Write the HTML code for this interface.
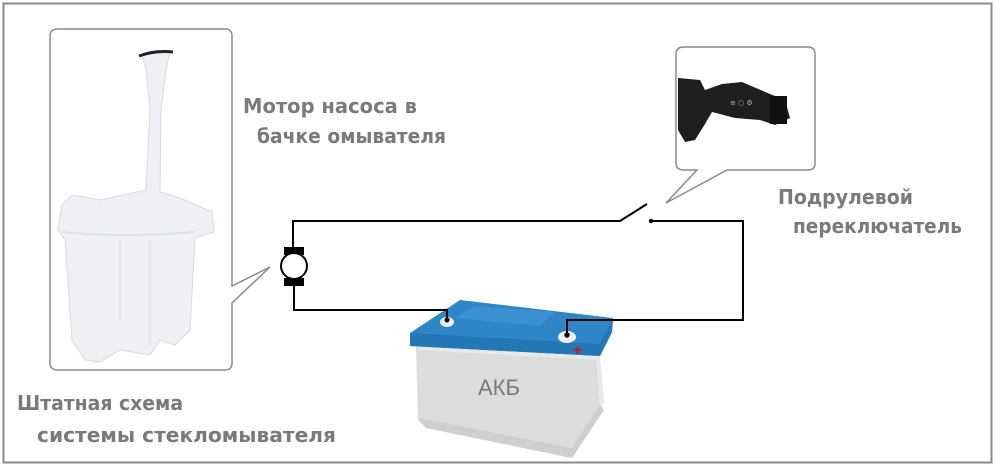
<!DOCTYPE html>
<html><head><meta charset="utf-8"><style>html,body{margin:0;padding:0;background:#fff}svg{display:block}</style></head>
<body>
<svg width="995" height="468" viewBox="0 0 995 468" xmlns="http://www.w3.org/2000/svg">
<rect x="0" y="0" width="995" height="468" fill="#fff"/>
<rect x="3.5" y="3.5" width="988" height="459" fill="none" stroke="#8a8a8a" stroke-width="2"/>
<!-- left callout -->
<path d="M58 29 H225 Q232 29 232 36 V286 L270 267 L232 303 V363 Q232 370 225 370 H58 Q50 370 50 363 V36 Q50 29 58 29 Z" fill="#fff" stroke="#8a8a8a" stroke-width="1.5"/>
<!-- tank -->
<g fill="#eef0f4" stroke="#d6dae2" stroke-width="1">
<path d="M142 55 L170 52 L166 70 L161 110 L160 192 L180 198 L212 212 L214 232 L195 238 L190 330 L175 345 L160 340 L150 355 L120 350 L100 362 L85 360 L72 340 L65 240 L58 230 L62 205 L72 195 L100 200 L146 190 L150 110 L146 70 Z"/>
</g>
<path d="M62 232 Q120 238 195 232" stroke="#dde1e8" fill="none" stroke-width="2"/>
<path d="M120 240 V320 M150 240 V345" stroke="#e3e6ec" fill="none" stroke-width="3"/>
<path d="M139 56 Q155 50 173 52" stroke="#222" stroke-width="3" fill="none"/>
<!-- switch callout -->
<path d="M684 47 H808 Q815 47 815 54 V163 Q815 170 808 170 H727 L666 203 L697 170 H684 Q676 170 676 163 V54 Q676 47 684 47 Z" fill="#fff" stroke="#8a8a8a" stroke-width="1.5"/>
<g fill="#1e1e1e">
<path d="M678 78 L700 80 L705 90 L722 84 L742 82 L770 94 L785 100 L790 118 L775 125 L760 120 L735 118 L712 112 L705 124 L695 140 L685 142 L678 130 Z"/>
<rect x="770" y="96" width="17" height="28" fill="#111"/>
</g>
<text x="730" y="105" fill="#bbb" font-family="DejaVu Sans" font-size="7">≡ ○ ⚙</text>
<!-- battery -->
<path d="M416 346 L600 356 L604 402 L572 458 L426 428 L418 420 Z" fill="#dcdcdc"/>
<path d="M416 346 L600 356 L604 402 L600 408 L596 360 L420 350 Z" fill="#e8e8e8"/>
<path d="M418 418 L572 448 L600 405 L604 410 L572 458 L426 428 Z" fill="#cfcfcf"/>
<path d="M410 333 L460 300 L613 318 L612 332 L600 356 L410 346 Z" fill="#2f86c6"/>
<path d="M410 333 L600 344 L613 320 L612 332 L600 356 L410 346 Z" fill="#2277b5"/>
<path d="M455 318 L540 326 L555 312 L475 306 Z" fill="#3a92d0"/>
<ellipse cx="447" cy="322" rx="7" ry="5" fill="#eee"/>
<ellipse cx="567" cy="337" rx="9" ry="6" fill="#eee"/>
<text x="573" y="355" fill="#e01010" font-family="Liberation Sans" font-size="16" font-weight="bold">+</text>
<text x="478" y="395" fill="#7a7a7a" font-family="Liberation Sans, DejaVu Sans, sans-serif" font-size="22">АКБ</text>
<!-- wires -->
<g stroke="#000" stroke-width="2" fill="none">
<polyline points="293,247 293,221 620,221 647,204"/>
<polyline points="651,221 743,221 743,320 567,320 567,335"/>
<polyline points="294,286 294,310 447,310 447,320"/>
</g>
<circle cx="651" cy="221" r="2.2" fill="#000"/>
<circle cx="447" cy="320" r="2.5" fill="#000"/>
<circle cx="567" cy="335" r="2.7" fill="#000"/>
<!-- motor -->
<rect x="284" y="247" width="20" height="8" fill="#000"/>
<rect x="284" y="278" width="20" height="8" fill="#000"/>
<circle cx="294" cy="266" r="13" fill="#fff" stroke="#000" stroke-width="2"/>
<!-- labels -->
<g fill="#7a7a7a" font-family="DejaVu Sans, Liberation Sans, sans-serif" font-size="20" font-weight="bold">
<text x="243" y="113" textLength="174" lengthAdjust="spacingAndGlyphs">Мотор насоса в</text>
<text x="257" y="143" textLength="189" lengthAdjust="spacingAndGlyphs">бачке омывателя</text>
<text x="778" y="204" textLength="135" lengthAdjust="spacingAndGlyphs">Подрулевой</text>
<text x="793" y="233" textLength="169" lengthAdjust="spacingAndGlyphs">переключатель</text>
<text x="17" y="410" textLength="166" lengthAdjust="spacingAndGlyphs">Штатная схема</text>
<text x="37" y="442" textLength="299" lengthAdjust="spacingAndGlyphs">системы стекломывателя</text>
</g>
</svg>
</body></html>
